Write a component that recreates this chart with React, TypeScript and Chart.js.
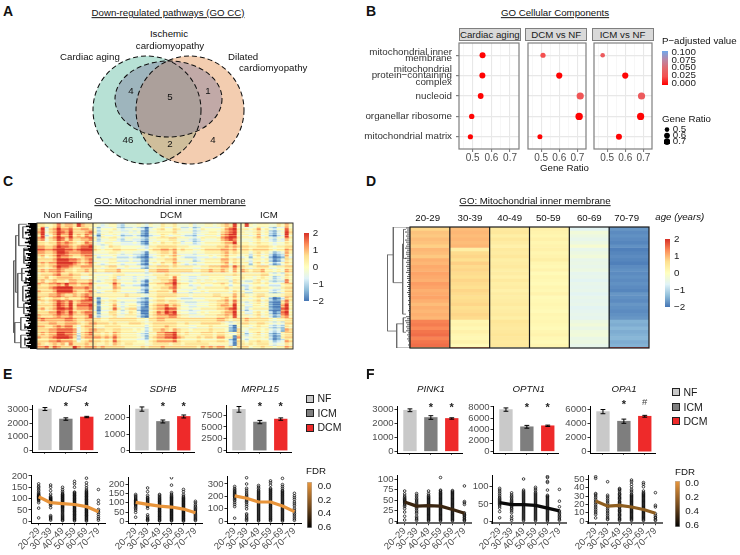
import React, { useEffect, useRef } from "react";
import { Chart, registerables } from "chart.js";
Chart.register(...registerables);

const FONT = '"Liberation Sans", Arial, sans-serif';
Chart.defaults.font.family = FONT;

// ---------- Panel A
const vennSets = [
  { name: "Cardiac aging", cx: 67, cy: 60, rx: 54, ry: 54, fill: "rgba(112,196,171,0.5)" },
  { name: "Dilated cardiomyopathy", cx: 110, cy: 60, rx: 54, ry: 54, fill: "rgba(231,155,97,0.5)" },
  { name: "Ischemic cardiomyopathy", cx: 88.5, cy: 49, rx: 53.5, ry: 38, fill: "rgba(125,120,155,0.42)" },
];

// ---------- Panel B
const goTerms = [
  ["mitochondrial inner", "membrane"],
  ["mitochondrial", "protein\u2212containing", "complex"],
  ["nucleoid"],
  ["organellar ribosome"],
  ["mitochondrial matrix"],
];
const facetNames = ["Cardiac aging", "DCM vs NF", "ICM vs NF"];
const ratioAging = [0.553, 0.552, 0.543, 0.495, 0.488];
const ratioDcm = [0.51, 0.6, 0.716, 0.71, 0.493];
const ratioIcm = [0.475, 0.6, 0.69, 0.685, 0.565];
const padjAging = [0.001, 0.001, 0.001, 0.002, 0.001];
const padjDcm = [0.025, 0.001, 0.03, 0.001, 0.001];
const padjIcm = [0.035, 0.002, 0.035, 0.001, 0.001];
const sizeAging = [3, 3, 2.9, 2.7, 2.6];
const sizeDcm = [2.6, 3.1, 3.6, 3.7, 2.5];
const sizeIcm = [2.3, 3.1, 3.6, 3.6, 3];
const padjStops: [number, string][] = [
  [0, "#ff0000"], [0.025, "#f45050"], [0.05, "#e06a70"], [0.075, "#b888a8"], [0.1, "#6ea8ec"],
];

// ---------- Panel C (levels 0..9 run from about -2 to 2)
const heatLevels = [-1.9, -1.45, -1.0, -0.6, -0.25, 0.1, 0.5, 0.95, 1.4, 1.9];
const heatNF = [
  "66556867769766", "69367977866776", "79467987966678", "69357977967687", "78467986866778", "66566878765687",
  "77667988767889", "88778998878999", "77667998777888", "67567988766788", "66667999887678", "67677999987678",
  "66567988766777", "67677876656676", "56667866766556", "66756777766445", "67567665776667", "76677879776778",
  "66678999977787", "76667999976678", "66677876676787", "76567767666789", "56567987967888", "66667987968889",
  "67567998967778", "66677987976788", "76667877866679", "78777778876677", "66677667776567", "77667878864677",
  "66677888873567", "67677998873678", "76678999862677", "66677877763567", "76567675866676", "77868766697677",
];
const heatDCM = [
  "5434553244 4543544655 6444534455 4567695", "4244453233 4320345644 6533423544 4457895",
  "5244544334 3410445555 6444423445 5467895", "4154454233 4310344654 5543324455 5478995",
  "5244553244 3321445556 6444323544 4578985", "4345544333 4310454655 6534423455 5567795",
  "5434655444 4432556666 6555444555 5667676", "6545566555 5443566776 7565544566 6677675",
  "4444554344 3320445665 7444434455 5567565", "5344453334 3210345656 7543334445 4567554",
  "4444553334 3310445566 7444423455 5577565", "5434554344 4310454655 7543434455 5567465",
  "5545664454 4421556665 6555544556 6677586", "6556667555 5553667776 6666655667 6676475",
  "4444455544 4443455565 5544444555 5555565", "5444563444 3443446665 8544334445 5554455",
  "4345575444 3420455667 9544345455 4555365", "5444586344 3310556677 9655344544 5565355",
  "4544476444 4421455667 8544435455 5556455", "5345565444 4320556665 8444344545 5555465",
  "5555555565 5543556666 6555455555 6655575", "4144554444 4321456655 5433344455 5567575",
  "4054564344 4210456656 6543334445 5667585", "5144574345 5310567786 7644334445 5677695",
  "4044585356 6200567798 8544344555 5667895", "5144664346 5300568798 9544334545 5567795",
  "4244564455 5310567778 8655444455 5667695", "6655666666 6554667766 6666666666 6776566",
  "7666565556 6654566666 6556555666 6654345", "6556666555 5553566676 6555445556 5555205",
  "7665566555 4542466765 7655455556 5554106", "6656576555 5432557788 9656555666 5665446",
  "7767686555 5431567788 9765556566 5775507", "6656586555 5443567777 8655556555 5665206",
  "6556576566 5554566665 6656666665 5555306", "7676666655 5565666766 6666665767 6775646",
];
const heatICM = [
  "5954555446575", "5545745324485", "5445645213496", "5545745213495", "4445645324375", "5545655434465",
  "6655666545566", "6656666545576", "5535645312375", "4525645201274", "5435545201365", "5525645312465",
  "6545666445566", "7656675545476", "5555566434365", "6554565423465", "4335645323385", "3345545333566",
  "4245655433566", "5335555323466", "6545665444566", "5545645201376", "4345645100685", "5335545100795",
  "4245555100895", "5335645201895", "5545645312785", "6766666545566", "6655665434366", "5545655323265",
  "4355545323176", "5245645212566", "4345545201566", "5355655312376", "6565666434465", "6645565545576",
];
// row-to-row streaks: three thin rows per entry of the tables above
const heatStreaks = [0.2,-0.15,0.05,-0.35,0.15,0.3,-0.2,0.35,-0.05,0.15,-0.4,0.2,0.4,-0.15,0.05,-0.3,0.2,0,-0.35,0.3,0.15,-0.2,0.4,-0.05,0.05,0.35,-0.3,0.2,-0.15,-0.4,0.3,0.05,-0.2,0.35,0,-0.3,0.4,0.15,-0.35,0.2,-0.05,0.3,-0.4,0.15,0.35,-0.2,0.05,-0.15,0.3,-0.35,0.2,0.4,-0.05,-0.3,0.15,0.35,-0.2,0,0.3,-0.4,0.2,-0.15,0.35,0.05,-0.3,0.15,0.4,-0.35,0.2,-0.05,0.3,-0.2,0.15,0.35,-0.4,0.05,0.2,-0.15,0.4,-0.3,0,0.3,-0.2,0.15,-0.35,0.35,0.05,-0.15,0.2,-0.4,0.3,0.15,-0.05,0.35,-0.3,0.2,-0.2,0.4,0.05,-0.35,0.15,0.3,-0.15,0.2,-0.3,0.35,0,-0.05];
const dendroCLeaves = [9,7,11,8,6,10,8,12,7,9,6,8,11,7,9,12,8,6,10,7,9,13,8,6,11,9,7,10,8,12,6,9,7,11,8,10,6,8,12,9,7,10,6,8,11,9,7,13,8,10,6,9,7,12,8,10,7,9,11,6,8,10,7,12,9,6,8,11,7,10,8,6,9,12,7,10,8,11,6,9,7,8,12,10,6,9,7,11,8,10,6,9,12,7,8,10,6,11,9,7];
const dendroCBranches = [
  [23,30,23,87],[23,30,21,30],[23,87,22,87],[21,10,21,55],[21,10,18,10],[21,55,19,55],[18,1,18,18],[18,1,10,1],[18,18,8,18],
  [19,40,19,67],[19,40,12,40],[19,67,9,67],[22,79,22,95],[22,79,16,79],[22,95,16,95],[16,75,16,85],[16,75,8,75],[16,85,8,85],
  [16,89,16,99],[16,89,8,89],[16,99,8,99],[14,3,14,12],[14,3,9,3],[14,12,9,12],[13,20,13,32],[13,20,8,20],[13,32,8,32],
  [15,36,15,46],[15,36,10,36],[15,46,10,46],[14,50,14,62],[14,50,9,50],[14,62,9,62],[13,64,13,72],[13,64,8,64],[13,72,8,72],
  [12,80,12,84],[12,91,12,97],[12,26,12,29],[11,7,11,9],[11,43,11,48],[11,56,11,60],
];
const age2029 = [0.75,0.9,0.85,0.95,0.9,0.8,1.0,0.95,0.85,1.05,1.0,1.1,1.05,1.15,1.1,1.05,1.2,1.15,1.05,1.1,1.15,1.05,0.95,1.05,1.0,1.05,1.0,1.4,1.45,1.35,1.5,1.55,1.4,1.5,1.55,0.4];
const age3039 = [0.95,1.0,0.95,1.0,0.95,1.0,0.35,0.7,0.75,0.65,0.8,0.7,0.75,0.7,0.65,0.75,0.7,0.65,0.75,0.7,0.65,0.7,0.75,0.65,0.7,0.75,0.7,0.2,0.25,0.15,0.3,0.2,0.15,0.25,0.1,1.5];
const age4049 = [0.45,0.5,0.35,0.5,0.4,0.3,0.45,0.4,0.5,0.35,0.4,0.45,0.35,0.4,0.3,0.45,0.35,0.4,0.3,0.4,0.35,0.4,0.45,0.35,0.4,0.45,0.35,0.55,0.5,0.45,0.5,0.55,0.5,0.45,0.5,-0.3];
const age5059 = [0.3,0.25,0.2,0.3,0.2,0.25,0.3,0.2,0.25,0.35,0.2,0.15,0.25,0.1,0.2,0.15,0.1,0.2,0.15,0.25,0.1,0.15,0.2,0.15,0.1,0.2,0.15,0.2,0.15,0.1,0.2,0.25,0.15,0.1,0.2,0.0];
const age6069 = [-0.6,-0.3,-0.4,-0.5,-0.4,-0.2,-0.5,-0.4,-0.3,-0.5,-0.45,-0.5,-0.4,-0.55,-0.5,-0.6,-0.5,-0.55,-0.5,-0.6,-0.5,-0.55,-0.5,-0.6,-0.55,-0.5,-0.55,-0.4,-0.3,-0.45,-0.35,-0.3,-0.45,-0.4,-0.5,-0.6];
const age7079 = [-1.7,-1.8,-1.75,-1.8,-1.85,-1.75,-1.9,-1.85,-1.8,-1.85,-1.9,-1.8,-1.75,-1.8,-1.75,-1.8,-1.75,-1.8,-1.85,-1.7,-1.75,-1.8,-1.7,-1.75,-1.8,-1.75,-1.7,-1.45,-1.5,-1.4,-1.5,-1.45,-1.4,-1.5,-1.45,2.0];
const ageRowWeights = [1,1,1,1,1,1,1,1,1,1,1,1,1,1,1,1,1,1,1,1,1,1,1,1,1,1,1,1,1,1,1,1,1,1,1,0.35];
const dendroDLeaves = [4,3,5,3,4,3,5,4,3,4,5,3,4,4,3,5,3,4,3,4,3,3,4,2,3,3,2,3,2,3,2,2,3,2,2,1,2,1,2,1,1,2,1,1,4,3,5,4,3,4,3,4,2,3,2,3,2,1,2,1];
const dendroDBranches = [
  [22.7,23,22.7,86],[22.7,23,16.7,23],[22.7,86,13.3,86],[16.7,0,16.7,46],[16.7,0,0,0],[16.7,46,7.3,46],
  [7.3,14,7.3,72],[7.3,14,6.5,14],[7.3,72,4,72],[6.5,2,6.5,26],[6.5,2,4,2],[6.5,26,4,26],[13.3,80,13.3,100],[13.3,80,6.7,80],
  [13.3,100,0,100],[6.7,75,6.7,87],[6.7,75,4,75],[6.7,87,4,87],
];
const rdYlBu: [number, string][] = [
  [-2, "#4575b4"], [-1.33, "#91bfdb"], [-0.67, "#e0f3f8"], [0, "#ffffbf"], [0.67, "#fee090"], [1.33, "#fc8d59"], [2, "#d73027"],
];

// ---------- Panels E and F
const groups = ["NF", "ICM", "DCM"];
const groupColors = ["#c9c9c9", "#7e7e7e", "#ee2a2a"];
const ages = ["20\u221229", "30\u221239", "40\u221249", "50\u221259", "60\u221269", "70\u221279"];
const barNdufs4 = [3050, 2310, 2460]; const errNdufs4 = [110, 90, 50];
const barSdhb = [2530, 1775, 2080]; const errSdhb = [130, 90, 90];
const barMrpl15 = [8700, 6020, 6650]; const errMrpl15 = [600, 350, 250];
const barPink1 = [2950, 2430, 2360]; const errPink1 = [100, 130, 50];
const barOptn1 = [7520, 4420, 4600]; const errOptn1 = [300, 250, 120];
const barOpa1 = [5720, 4350, 5060]; const errOpa1 = [300, 300, 130];
const lineNdufs4 = [108, 82, 78, 74, 65, 42];
const lineSdhb = [102, 91, 82, 77, 66, 46];
const lineMrpl15 = [204, 185, 155, 155, 123, 78];
const linePink1 = [46, 36, 37, 36, 28, 19];
const lineOptn1 = [54, 48, 48, 46, 38, 30];
const lineOpa1 = [24, 18, 19, 17, 14, 9.5];
const ptsNdufs4 = [
  [15,58,82,90,95,98,100,103,105,108,110,112,115,118,122,128,135,142,150,155,165],
  [5,10,15,20,25,60,70,75,78,82,85,88,90,92,95,98,100,103,106,110,120,135,150,160],
  [3,6,10,14,18,22,26,30,35,40,44,48,52,56,60,63,66,69,72,75,78,81,84,87,90,93,96,99,102,105,108,111,114,117,120,125,132,140,150],
  [2,6,10,13,17,21,24,28,31,35,38,42,45,49,52,56,59,63,66,70,73,77,80,84,87,91,94,98,101,105,108,112,115,119,122,126,129,150,165,176],
  [1,5,9,13,16,20,24,27,31,34,38,41,45,48,52,55,59,62,66,69,73,76,80,83,87,90,94,97,101,104,108,111,115,118,122,125,129,133,138,147,158,170,190],
  [5,12,20,30,38,45,52,78,92,140],
];
const ptsSdhb = [
  [22,48,60,68,75,82,88,92,96,100,104,108,112,115,120,126,132,138,145],
  [3,8,12,18,25,35,70,80,85,90,95,100,105,110,115,120,125,130,140,160,180],
  [2,6,10,15,19,24,28,33,37,42,46,51,55,60,64,69,73,78,82,87,91,96,100,105,109,114,118,123,128,133,140,145],
  [2,6,10,14,18,22,26,30,34,38,42,46,50,54,58,62,66,70,74,78,82,86,90,94,98,102,106,110,114,118,122,126,130,135,140,147,155,195,235],
  [1,5,9,13,17,21,25,29,33,37,41,45,49,53,57,61,65,69,73,77,81,85,89,93,97,101,105,109,113,117,121,125,130,136,145,160,172],
  [4,9,14,20,26,32,38,44,50,56,62,68,75,82,90,100,108],
];
const ptsMrpl15 = [
  [25,118,135,150,165,175,185,195,200,208,215,222,230,238,245,255,265,280],
  [5,15,25,35,50,60,100,120,135,150,160,170,180,190,200,210,220,235,250,265,300,350],
  [3,10,18,26,34,42,50,58,66,74,82,90,98,106,114,122,130,138,146,154,162,170,178,186,194,202,210,218,226,234,242,250,262,275,288],
  [3,10,18,25,33,40,48,55,63,70,78,85,93,100,108,115,123,130,138,145,153,160,168,175,183,190,198,205,213,220,228,235,243,250,258,265,290,310,325],
  [2,10,17,25,32,40,47,55,62,70,77,85,92,100,107,115,122,130,137,145,152,160,167,175,182,190,197,205,212,220,227,235,242,250,265,280,295,345],
  [8,20,35,50,62,75,90,105,125,140,155,175,190,205,225],
];
const ptsPink1 = [
  [3,12,22,30,35,38,41,44,46,48,50,52,54,57,60,65,72],
  [2,5,8,12,18,22,26,30,33,36,39,42,45,48,51,54,58,62,66],
  [1,3,5,7,9,11,13,15,17,19,21,23,25,27,29,31,33,35,37,39,41,43,45,47,49,51,53,55,57,59,62,66,72],
  [1,3,5,7,9,11,13,15,17,19,21,23,25,27,29,31,33,35,37,39,41,43,45,47,49,51,53,55,57,59,61,63,65,67,69,72,74,104],
  [1,3,5,7,9,11,13,15,17,19,21,23,25,27,29,31,33,35,37,39,41,43,45,47,49,51,53,55,57,59,61,63,65,67,69,71,73],
  [1,3,5,8,10,13,15,17,20,40,44,47,84],
];
const ptsOptn1 = [
  [10,28,38,44,48,51,54,57,60,63,66,70,75,80,85,90,95],
  [3,8,15,25,30,35,38,42,45,48,51,54,57,60,64,68,72,76,82],
  [2,5,8,11,14,17,20,23,26,29,32,35,38,41,44,47,50,53,56,59,62,65,68,71,74,77,80,83,86,90,122],
  [2,5,8,11,14,17,20,23,26,29,32,35,38,41,44,47,50,53,56,59,62,65,68,71,74,77,80,83,88,93,98],
  [1,4,7,10,13,16,19,22,25,28,31,34,37,40,43,46,49,52,55,58,61,64,67,70,72,75,90,112,115,126,129],
  [3,6,10,14,18,22,26,30,42,58,92],
];
const ptsOpa1 = [
  [4,8,10,12,14,16,18,20,22,24,26,28,30,32,33,51,53],
  [2,3,5,7,9,11,13,15,17,19,21,23,25,27,29,31,47],
  [1,2,3,4,6,7,8,9,11,12,13,14,16,17,18,19,21,22,23,24,26,27,28,29,31,32,33,35,37,38,39],
  [1,2,3,4,5,6,7,8,9,10,11,12,13,14,15,16,17,18,19,20,21,22,23,24,25,26,27,28,29,30,31,32,34,36,38,41,44,47,49],
  [1,2,3,4,5,6,7,8,9,10,11,12,13,14,15,16,17,18,19,20,21,22,23,24,25,26,27,28,29,30,31,32,33,34,36,41,44,46],
  [1,2,4,5,7,9,17,19,34],
];

// ---------- helpers
function hex(c: string) { return [1, 3, 5].map((i) => parseInt(c.slice(i, i + 2), 16)); }
function ramp(stops: [number, string][], v: number) {
  if (v <= stops[0][0]) return stops[0][1];
  for (let i = 1; i < stops.length; i++) {
    if (v <= stops[i][0]) {
      const t = (v - stops[i - 1][0]) / (stops[i][0] - stops[i - 1][0]);
      const a = hex(stops[i - 1][1]); const b = hex(stops[i][1]);
      return `rgb(${a.map((x, k) => Math.round(x + (b[k] - x) * t)).join(",")})`;
    }
  }
  return stops[stops.length - 1][1];
}
type Rect = { l: number; t: number; w: number; h: number };
type Marg = { left: number; right: number; top: number; bottom: number };
function panel(r: Rect, m: Marg, config: any) {
  const scales = config.options.scales;
  const padding: any = { ...m };
  for (const k of Object.keys(scales)) {
    const s = scales[k];
    if (s.display === false) continue;
    const pos: keyof Marg = s.position || (k === "x" ? "bottom" : "left");
    padding[pos] = 0;
    s.afterFit = (sc: any) => {
      if (sc.isHorizontal()) sc.height = m[pos]; else sc.width = m[pos];
      sc.paddingLeft = sc.paddingRight = sc.paddingTop = sc.paddingBottom = 0;
    };
  }
  config.options = {
    responsive: false, maintainAspectRatio: false, animation: false,
    layout: { padding }, ...config.options,
    plugins: { legend: { display: false }, tooltip: { enabled: false }, title: { display: false } },
  };
  return { left: r.l - m.left, top: r.t - m.top, width: r.w + m.left + m.right, height: r.h + m.top + m.bottom, config, soft: false };
}
const frame = (color: string, width: number, cuts: number[] = []) => ({
  id: "frame",
  afterDatasetsDraw(c: any) {
    const a = c.chartArea; const g = c.ctx;
    g.save(); g.strokeStyle = color; g.lineWidth = width;
    g.strokeRect(a.left, a.top, a.right - a.left, a.bottom - a.top);
    cuts.forEach((v) => {
      const x = c.scales.x.getPixelForValue(v);
      g.beginPath(); g.moveTo(x, a.top); g.lineTo(x, a.bottom); g.stroke();
    });
    g.restore();
  },
});
function heatChart(r: Rect, rows: number[][], cuts: number[], color: string, width: number, weights?: number[]) {
  const cols = rows[0].map((_, i) => String(i));
  let edge = 0;
  const spans = rows.map((_, i) => { const a = edge; edge += weights ? weights[i] : 1; return [a, edge]; });
  return panel(r, { left: 1, right: 1, top: 1, bottom: 1 }, {
    type: "bar",
    data: {
      labels: cols,
      datasets: rows.map((row, i) => ({
        data: row.map(() => spans[i]),
        backgroundColor: row.map((v) => ramp(rdYlBu, v)),
        grouped: false, barPercentage: 1, categoryPercentage: 1, borderWidth: 0,
      })),
    },
    options: {
      scales: {
        x: { display: false },
        y: { display: false, reverse: true, min: 0, max: edge, beginAtZero: false },
      },
    },
    plugins: [frame(color, width, cuts)],
  });
}
const gradient = (stops: [number, string][]) => (ctx: any) => {
  const a = ctx.chart.chartArea;
  if (!a) return stops[0][1];
  const g = ctx.chart.ctx.createLinearGradient(0, a.top, 0, a.bottom);
  stops.forEach(([o, c]) => g.addColorStop(o, c));
  return g;
};
function colorBar(r: Rect, right: number, pad: number, min: number, max: number, ticks: number[], fmt: (v: number) => string, stops: [number, string][], rev: boolean, border = 0) {
  return panel(r, { left: 0, right, top: 7, bottom: 7 }, {
    type: "bar",
    data: { labels: ["scale"], datasets: [{ data: [[min, max]], backgroundColor: gradient(stops), barPercentage: 1, categoryPercentage: 1, borderWidth: border, borderColor: "#b5b5b5", borderSkipped: false }] },
    options: {
      scales: {
        x: { display: false },
        y: {
          position: "right", min, max, reverse: rev, beginAtZero: false,
          afterBuildTicks: (s: any) => { s.ticks = ticks.map((value) => ({ value })); },
          border: { display: false },
          grid: { display: false, drawTicks: false },
          ticks: { autoSkip: false, padding: pad, color: "#1a1a1a", font: { size: 9.8 }, callback: (v: number) => fmt(v) },
        },
      },
    },
  });
}
function dendro(r: Rect, maxD: number, maxRow: number, branches: number[][], leaves: number[], leafColor: string, leafWidth: number, branchColor: string) {
  const spaced = maxRow / leaves.length;
  const segs = (list: number[][]) => list.flatMap(([a, b, c, d]) => [{ x: a, y: b }, { x: c, y: d }, { x: null, y: null }]);
  return panel(r, { left: 0, right: 0, top: 1, bottom: 1 }, {
    type: "scatter",
    data: {
      datasets: [
        { data: segs(leaves.map((d, i) => [d, (i + 0.5) * spaced, 0, (i + 0.5) * spaced])), showLine: true, pointRadius: 0, borderColor: leafColor, borderWidth: leafWidth, spanGaps: false },
        { data: segs(branches), showLine: true, pointRadius: 0, borderColor: branchColor, borderWidth: 0.8, spanGaps: false },
      ],
    },
    options: {
      scales: {
        x: { display: false, min: 0, max: maxD, reverse: true },
        y: { display: false, min: 0, max: maxRow, reverse: true },
      },
    },
  });
}
const errorMarks = (stars: string[], yShift: number[]) => ({
  id: "errorMarks",
  afterDatasetsDraw(c: any) {
    const g = c.ctx; const ds = c.data.datasets[0]; const xs = c.scales.x; const ys = c.scales.y;
    g.save();
    ds.data.forEach((p: any, i: number) => {
      const x = xs.getPixelForValue(p.x);
      const hi = ys.getPixelForValue(p.y + ds.errors[i]); const lo = ys.getPixelForValue(p.y - ds.errors[i]);
      g.strokeStyle = "#000"; g.lineWidth = 1;
      g.beginPath();
      g.moveTo(x, hi); g.lineTo(x, lo);
      g.moveTo(x - 2.4, hi); g.lineTo(x + 2.4, hi);
      g.moveTo(x - 2.4, lo); g.lineTo(x + 2.4, lo);
      g.stroke();
      if (stars[i]) {
        g.fillStyle = stars[i] === "#" ? "#444" : "#222"; g.textAlign = "center"; g.textBaseline = "middle";
        g.font = stars[i] === "#" ? `9.5px ${FONT}` : `bold 11px ${FONT}`;
        g.fillText(stars[i], x, c.chartArea.top + yShift[i]);
      }
    });
    g.restore();
  },
});
function axisY(min: number, max: number, vals: number[]) {
  return {
    type: "linear", min, max,
    afterBuildTicks: (s: any) => { s.ticks = vals.map((value) => ({ value })); },
    border: { display: true, color: "#000", width: 1 },
    grid: { display: true, drawOnChartArea: false, drawTicks: true, tickLength: 2.5, tickColor: "#333" },
    ticks: { autoSkip: false, padding: 1, color: "#4d4d4d", font: { size: 9.5 }, callback: (v: number) => String(v) },
  };
}
function barChart(l: number, t: number, h: number, values: number[], errors: number[], min: number, max: number, ticks: number[], stars: string[], shift: number[] = [2, 2, 2]) {
  return panel({ l, t, w: 65.3, h }, { left: 31, right: 4, top: 10, bottom: 5 }, {
    type: "bar",
    data: {
      datasets: [{
        data: values.map((y, i) => ({ x: i + 1, y })), errors,
        backgroundColor: groupColors, barThickness: 12.7, borderWidth: 0,
      }],
    },
    options: {
      scales: {
        x: {
          type: "linear", offset: false, min: 0.38, max: 3.49,
          afterBuildTicks: (s: any) => { s.ticks = groups.map((_, i) => ({ value: i + 1 })); },
          border: { display: true, color: "#000", width: 1 },
          grid: { offset: false, display: true, drawOnChartArea: false, drawTicks: true, tickLength: 2, tickColor: "#666" },
          ticks: { display: false },
        },
        y: axisY(min, max, ticks),
      },
    },
    plugins: [errorMarks(stars, shift)],
  });
}
function scatterChart(l: number, t: number, h: number, pts: number[][], line: number[], color: string, min: number, max: number, ticks: number[], xAxisColor: string, xAxisWidth: number) {
  const points = pts.flatMap((col, i) => col.map((y) => ({ x: i + 1, y })));
  return panel({ l, t, w: 74, h }, { left: 31, right: 6, top: 6, bottom: 555 - (t + h) }, {
    type: "scatter",
    data: {
      datasets: [
        { data: line.map((y, i) => ({ x: i + 1, y })), showLine: true, pointRadius: 0, borderColor: color, borderWidth: 3.2, borderJoinStyle: "round", borderCapStyle: "butt" },
        { data: points, pointRadius: 1.3, pointBorderWidth: 0.85, pointBackgroundColor: "rgba(0,0,0,0)", pointBorderColor: "rgba(10,10,10,0.88)" },
      ],
    },
    options: {
      scales: {
        x: {
          type: "linear", min: 0.36, max: 6.55,
          afterBuildTicks: (s: any) => { s.ticks = ages.map((_, i) => ({ value: i + 1 })); },
          border: { display: true, color: xAxisColor, width: xAxisWidth },
          grid: { display: true, drawOnChartArea: false, drawTicks: true, tickLength: 2, tickColor: "#333" },
          ticks: { autoSkip: false, minRotation: 45, maxRotation: 45, padding: 0, color: "#4d4d4d", font: { size: 9.5 }, callback: (v: number) => ages[v - 1] },
        },
        y: axisY(min, max, ticks),
      },
    },
  });
}
function dotFacet(l: number, ml: number, ratios: number[], padj: number[], sizes: number[], firstPanel: boolean) {
  return panel({ l, t: 41.3, w: 62, h: 108 }, { left: ml, right: 2, top: 2, bottom: 20 }, {
    type: "bubble",
    data: {
      datasets: [{
        data: ratios.map((x, i) => ({ x, y: i, r: sizes[i] })),
        backgroundColor: padj.map((p) => ramp(padjStops, p)),
        borderWidth: 0,
      }],
    },
    options: {
      scales: {
        x: {
          type: "linear", min: 0.427, max: 0.748,
          afterBuildTicks: (s: any) => { s.ticks = [0.45, 0.5, 0.55, 0.6, 0.65, 0.7].map((value) => ({ value })); },
          border: { display: false },
          grid: {
            display: true, drawTicks: true, tickLength: 3,
            color: (c: any) => (Math.round(c.tick.value * 100) % 10 === 0 ? "#e8e8e8" : "#f3f3f3"),
            lineWidth: (c: any) => (Math.round(c.tick.value * 100) % 10 === 0 ? 1.1 : 0.7),
            tickColor: (c: any) => (Math.round(c.tick.value * 100) % 10 === 0 ? "#7f7f7f" : "rgba(0,0,0,0)"),
          },
          ticks: {
            autoSkip: false, minRotation: 0, maxRotation: 0, padding: 0, color: "#4d4d4d", font: { size: 10 },
            callback: (v: number) => (Math.round(v * 100) % 10 === 0 ? v.toFixed(1) : ""),
          },
        },
        y: {
          type: "linear", min: -0.6, max: 4.6, reverse: true,
          afterBuildTicks: (s: any) => { s.ticks = goTerms.map((_, i) => ({ value: i })); },
          border: { display: false },
          grid: { display: true, color: "#e8e8e8", lineWidth: 1.2, drawTicks: firstPanel, tickLength: 3, tickColor: "#7f7f7f" },
          ticks: {
            display: firstPanel, autoSkip: false, padding: 4, color: "#333",
            font: { size: 9.8, lineHeight: 0.68 },
            callback: (v: number) => goTerms[v],
          },
        },
      },
    },
    plugins: [frame("#7f7f7f", 1.2)],
  });
}
function vennChart() {
  return panel({ l: 80, t: 50, w: 175, h: 120 }, { left: 0, right: 0, top: 0, bottom: 0 }, {
    type: "scatter",
    data: { datasets: [{ data: vennSets.map((s) => ({ x: s.cx, y: s.cy })), pointRadius: 0 }] },
    options: { scales: { x: { display: false, min: 0, max: 175 }, y: { display: false, min: 0, max: 120, reverse: true } } },
    plugins: [{
      id: "venn",
      beforeDatasetsDraw(c: any) {
        const g = c.ctx; const xs = c.scales.x; const ys = c.scales.y;
        const drawOne = (s: any) => {
          g.beginPath();
          g.ellipse(xs.getPixelForValue(s.cx), ys.getPixelForValue(s.cy), xs.getPixelForValue(s.cx + s.rx) - xs.getPixelForValue(s.cx), ys.getPixelForValue(s.cy + s.ry) - ys.getPixelForValue(s.cy), 0, 0, Math.PI * 2);
        };
        g.save();
        vennSets.forEach((s) => { drawOne(s); g.fillStyle = s.fill; g.fill(); });
        g.setLineDash([5, 3]); g.strokeStyle = "#111"; g.lineWidth = 1.05;
        vennSets.forEach((s) => { drawOne(s); g.stroke(); });
        g.restore();
      },
    }],
  });
}

const heatRows = heatNF.flatMap((nf, i) => {
  const row = (nf + heatDCM[i].replace(/ /g, "") + heatICM[i]).split("").map((d) => heatLevels[Number(d)]);
  return [0, 1, 2].map((k) => row.map((v) => v + (heatStreaks[i * 3 + k] || 0)));
});
const ageRows = age2029.map((_, i) => [age2029[i], age3039[i], age4049[i], age5059[i], age6069[i], age7079[i]]);
const rdStops: [number, string][] = rdYlBu.slice().reverse().map(([v, c]) => [(2 - v) / 4, c]);
const fdrStops: [number, string][] = [[0, "#ea973c"], [0.5, "#7d5020"], [1, "#000000"]];
const padjGrad: [number, string][] = padjStops.slice().reverse().map(([v, c]) => [(0.1 - v) / 0.1, c]);
const signed = (v: number) => (v < 0 ? "\u2212" + Math.abs(v) : String(v));
const ratioLegend = [{ v: 0.5, r: 2.3 }, { v: 0.6, r: 2.9 }, { v: 0.7, r: 3.3 }];
const heatC = heatChart({ l: 36.7, t: 222.7, w: 256, h: 125.6 }, heatRows, [13.5, 50.5], "#333", 1);
heatC.soft = true;

const specs = [
  vennChart(),
  dotFacet(459.3, 97, ratioAging, padjAging, sizeAging, true),
  dotFacet(525.7, 2, ratioDcm, padjDcm, sizeDcm, false),
  dotFacet(592, 2, ratioIcm, padjIcm, sizeIcm, false),
  colorBar({ l: 662, t: 51, w: 6.3, h: 34 }, 40, 3.4, -0.005, 0.103, [0, 0.025, 0.05, 0.075, 0.1], (v) => v.toFixed(3), padjGrad, false),
  panel({ l: 662, t: 124, w: 8, h: 24 }, { left: 2, right: 20, top: 2, bottom: 2 }, {
    type: "bubble",
    data: { datasets: [{ data: ratioLegend.map((d, i) => ({ x: 0, y: i, r: d.r })), backgroundColor: "#000", borderWidth: 0 }] },
    options: {
      scales: {
        x: { display: false, min: -1, max: 1 },
        y: {
          position: "right", min: -0.6, max: 2.73, reverse: true,
          afterBuildTicks: (s: any) => { s.ticks = ratioLegend.map((_, i) => ({ value: i })); },
          border: { display: false }, grid: { display: false, drawTicks: false },
          ticks: { autoSkip: false, padding: 2.7, color: "#1a1a1a", font: { size: 9.8 }, callback: (v: number) => ratioLegend[v].v.toFixed(1) },
        },
      },
    },
  }),
  dendro({ l: 13, t: 222.7, w: 23.7, h: 125.6 }, 23.7, 100, dendroCBranches, dendroCLeaves, "#000", 1.5, "#555"),
  heatC,
  colorBar({ l: 303.7, t: 232.7, w: 4.6, h: 68 }, 20, 3.7, -2, 2, [-2, -1, 0, 1, 2], signed, rdStops, false),
  dendro({ l: 387, t: 226.7, w: 23, h: 121 }, 23, 100, dendroDBranches, dendroDLeaves, "#444", 0.9, "#666"),
  heatChart({ l: 410, t: 226.7, w: 239, h: 121 }, ageRows, [0.5, 1.5, 2.5, 3.5, 4.5], "#1a1a1a", 1.2, ageRowWeights),
  colorBar({ l: 665.3, t: 238.7, w: 4.7, h: 67.5 }, 20, 4, -2, 2, [-2, -1, 0, 1, 2], signed, rdStops, false),

  barChart(31.7, 405, 46.7, barNdufs4, errNdufs4, -126, 3348, [0, 1000, 2000, 3000], ["", "*", "*"]),
  barChart(128.7, 405, 46.7, barSdhb, errSdhb, -86, 2779, [0, 1000, 2000], ["", "*", "*"]),
  barChart(225.7, 405, 46.7, barMrpl15, errMrpl15, -298, 9624, [0, 2500, 5000, 7500], ["", "*", "*"]),
  barChart(397.3, 405.7, 47.3, barPink1, errPink1, -121, 3257, [0, 1000, 2000, 3000], ["", "*", "*"]),
  barChart(493.3, 405.7, 47.3, barOptn1, errOptn1, -304, 8167, [0, 2000, 4000, 6000, 8000], ["", "*", "*"]),
  barChart(590, 405.7, 47.3, barOpa1, errOpa1, -190, 6525, [0, 2000, 4000, 6000], ["", "*", "#"], [2, -1, -4]),

  scatterChart(31, 475, 48.3, ptsNdufs4, lineNdufs4, "#e8943a", -8.8, 204, [0, 50, 100, 150, 200], "#000", 1),
  scatterChart(128.3, 476.7, 46.6, ptsSdhb, lineSdhb, "#e8943a", -10.7, 239, [0, 50, 100, 150, 200], "#000", 1),
  scatterChart(226.7, 476, 47.3, ptsMrpl15, lineMrpl15, "#e8943a", -16, 364, [0, 100, 200, 300], "#000", 1),
  scatterChart(397.3, 475, 48.3, ptsPink1, linePink1, "#3a2510", -4.8, 110, [0, 25, 50, 75, 100], "#666", 2),
  scatterChart(492.3, 475, 48.3, ptsOptn1, lineOptn1, "#0a0a0a", -5.8, 133.5, [0, 50, 100], "#666", 2),
  scatterChart(588.3, 475, 48.3, ptsOpa1, lineOpa1, "#8e5e20", -2.4, 55, [0, 10, 20, 30, 40, 50], "#666", 2),

  colorBar({ l: 306.7, t: 481.7, w: 5.3, h: 46.3 }, 30, 5.7, -0.057, 0.605, [0, 0.2, 0.4, 0.6], (v) => v.toFixed(1), fdrStops, true, 0.8),
  colorBar({ l: 675.3, t: 480.7, w: 5.4, h: 46 }, 30, 5.3, -0.03, 0.625, [0, 0.2, 0.4, 0.6], (v) => v.toFixed(1), fdrStops, true, 0.8),
];

type Label = { t: string; x: number; y: number; s?: number; a?: "c" | "l"; it?: boolean; u?: boolean; b?: boolean; c?: string };
const labels: Label[] = [
  { t: "A", x: 3, y: 11, s: 14, a: "l", b: true }, { t: "B", x: 366, y: 11, s: 14, a: "l", b: true },
  { t: "C", x: 3, y: 181, s: 14, a: "l", b: true }, { t: "D", x: 366, y: 181, s: 14, a: "l", b: true },
  { t: "E", x: 3, y: 374, s: 14, a: "l", b: true }, { t: "F", x: 366, y: 374, s: 14, a: "l", b: true },
  { t: "Down-regulated pathways (GO CC)", x: 168, y: 13, u: true },
  { t: "Ischemic", x: 169, y: 34 }, { t: "cardiomyopathy", x: 170, y: 46 },
  { t: "Cardiac aging", x: 60, y: 57, a: "l" }, { t: "Dilated", x: 228, y: 57, a: "l" }, { t: "cardiomyopathy", x: 239, y: 68, a: "l" },
  { t: "4", x: 131, y: 91 }, { t: "5", x: 170, y: 97 }, { t: "1", x: 208, y: 91 }, { t: "46", x: 128, y: 140 }, { t: "2", x: 170, y: 144 }, { t: "4", x: 213, y: 140 },
  { t: "GO Cellular Components", x: 555, y: 13, u: true },
  { t: "P\u2212adjusted value", x: 662, y: 41, a: "l" }, { t: "Gene Ratio", x: 662, y: 119, a: "l" }, { t: "Gene Ratio", x: 564.5, y: 168 },
  { t: "GO: Mitochondrial inner membrane", x: 170, y: 201, u: true },
  { t: "Non Failing", x: 68, y: 215 }, { t: "DCM", x: 171, y: 215 }, { t: "ICM", x: 269, y: 215 },
  { t: "GO: Mitochondrial inner membrane", x: 535, y: 201, u: true },
  { t: "20-29", x: 427.7, y: 218 }, { t: "30-39", x: 470, y: 218 }, { t: "40-49", x: 509.7, y: 218 }, { t: "50-59", x: 548.3, y: 218 }, { t: "60-69", x: 589.3, y: 218 }, { t: "70-79", x: 626.7, y: 218 },
  { t: "age (years)", x: 655.3, y: 217, a: "l", it: true },
  { t: "NDUFS4", x: 67.7, y: 389, it: true }, { t: "SDHB", x: 163, y: 389, it: true }, { t: "MRPL15", x: 260, y: 389, it: true },
  { t: "PINK1", x: 431, y: 389, it: true }, { t: "OPTN1", x: 528.7, y: 389, it: true }, { t: "OPA1", x: 624, y: 389, it: true },
  { t: "FDR", x: 306, y: 471, a: "l" }, { t: "FDR", x: 675, y: 471.5, a: "l" },
];
const legendRows = [
  { x: 306, y: 398.7 }, { x: 306, y: 413 }, { x: 306, y: 427.7 },
  { x: 672, y: 392 }, { x: 672, y: 407.3 }, { x: 672, y: 421.3 },
];

export default function App() {
  const refs = useRef<(HTMLCanvasElement | null)[]>([]);
  useEffect(() => {
    const charts = specs.map((s, i) => new Chart(refs.current[i] as HTMLCanvasElement, s.config));
    return () => charts.forEach((c) => c.destroy());
  }, []);
  return (
    <div style={{ position: "absolute", left: 0, top: 0, width: 740, height: 555, overflow: "hidden", background: "#fff", fontFamily: FONT, filter: "blur(0.35px)" }}>
      {facetNames.map((n, i) => (
        <div key={n} style={{ position: "absolute", left: [459.3, 525.7, 592][i] - 0.5, top: 27.7, width: 62, height: 13.6, boxSizing: "border-box", background: "#d9d9d9", border: "1.2px solid #7f7f7f", fontSize: 9.7, lineHeight: "12px", textAlign: "center", color: "#1a1a1a", whiteSpace: "nowrap" }}>{n}</div>
      ))}
      {specs.map((s, i) => (
        <canvas key={i} ref={(el) => { refs.current[i] = el; }} width={Math.round(s.width)} height={Math.round(s.height)}
          style={{ position: "absolute", left: s.left, top: s.top, width: Math.round(s.width), height: Math.round(s.height), filter: s.soft ? "blur(0.4px)" : undefined }} />
      ))}
      {legendRows.map((r, i) => (
        <React.Fragment key={i}>
          <div style={{ position: "absolute", left: r.x, top: r.y - 4, width: 8, height: 8, boxSizing: "border-box", background: groupColors[i % 3], border: "1px solid #222" }} />
          <div style={{ position: "absolute", left: r.x + 11.5, top: r.y - 5.5, fontSize: 10.5, lineHeight: "11px", color: "#1a1a1a" }}>{groups[i % 3]}</div>
        </React.Fragment>
      ))}
      {labels.map((l, i) => (
        <div key={i} style={{
          position: "absolute", left: l.x, top: l.y, whiteSpace: "nowrap", lineHeight: 1,
          transform: l.a === "l" ? "translateY(-50%)" : "translate(-50%,-50%)",
          fontSize: l.s || 9.7, fontStyle: l.it ? "italic" : "normal", fontWeight: l.b ? 700 : 400,
          textDecoration: l.u ? "underline" : "none", color: l.c || "#111",
        }}>{l.t}</div>
      ))}
    </div>
  );
}
